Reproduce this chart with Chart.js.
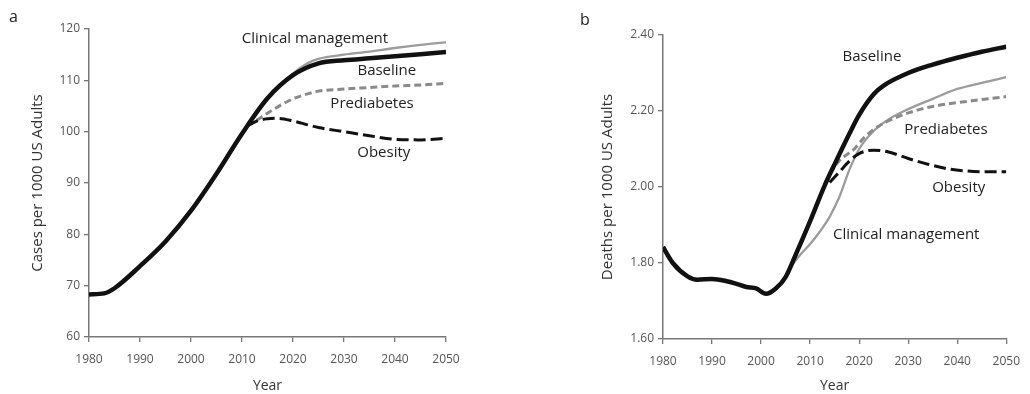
<!DOCTYPE html>
<html>
<head>
<meta charset="utf-8">
<script src="https://cdn.jsdelivr.net/npm/chart.js@4/dist/chart.umd.min.js"></script>
<style>
  body { margin: 0; background: #fff; font-family: "Open Sans", sans-serif; }
  #wrap { position: relative; width: 1030px; height: 394px; overflow: hidden; }
  .panel { position: absolute; top: 0; width: 515px; height: 394px; }
  .letter { position: absolute; font-size: 16px; color: #222; }
</style>
</head>
<body>
<div id="wrap">
  <div class="panel" style="left:0"><canvas id="chartA"></canvas></div>
  <div class="panel" style="left:515px"><canvas id="chartB"></canvas></div>
  <div class="letter" style="left:9px;top:5px">a</div>
  <div class="letter" style="left:580px;top:8px">b</div>
</div>
<script>
// panel a: cases per 1000 adults
const yearsBaseA = [1980, 1983, 1985, 1990, 1995, 2000, 2005, 2010, 2015, 2020, 2025, 2030, 2035, 2040, 2045, 2050];
const baselineA = [68.3, 68.5, 69.5, 73.8, 78.6, 84.6, 91.8, 99.6, 106.5, 111.0, 113.3, 113.9, 114.3, 114.7, 115.1, 115.5];
const yearsClinA = [2015, 2020, 2023, 2025, 2030, 2035, 2040, 2045, 2050];
const clinicalA = [106.6, 111.3, 113.4, 114.2, 115.0, 115.6, 116.3, 116.9, 117.4];
const yearsPreA = [2011, 2013, 2015, 2018, 2020, 2023, 2025, 2030, 2035, 2040, 2045, 2050];
const prediabetesA = [101.1, 102.3, 103.6, 105.4, 106.4, 107.4, 107.9, 108.3, 108.6, 108.9, 109.1, 109.4];
const yearsObeA = [2011, 2013, 2015, 2017, 2020, 2023, 2025, 2030, 2035, 2040, 2045, 2050];
const obesityA = [101.1, 102.1, 102.5, 102.6, 102.1, 101.3, 100.8, 100.0, 99.2, 98.5, 98.4, 98.7];

// panel b: deaths per 1000 adults
const yearsBaseB = [1980, 1982, 1985, 1987, 1990, 1993, 1995, 1997, 1999, 2001, 2003, 2005, 2007, 2010, 2013, 2015, 2018, 2020, 2023, 2025, 2030, 2035, 2040, 2045, 2050];
const baselineB = [1.842, 1.800, 1.765, 1.756, 1.758, 1.752, 1.745, 1.737, 1.733, 1.719, 1.733, 1.763, 1.820, 1.910, 2.005, 2.060, 2.140, 2.190, 2.245, 2.267, 2.300, 2.322, 2.340, 2.356, 2.369];
const yearsClinB = [2006, 2008, 2010, 2012, 2014, 2016, 2018, 2020, 2023, 2026, 2030, 2035, 2040, 2045, 2050];
const clinicalB = [1.790, 1.822, 1.850, 1.883, 1.922, 1.975, 2.045, 2.100, 2.148, 2.178, 2.205, 2.232, 2.258, 2.274, 2.289];
const yearsPreB = [2014, 2016, 2019, 2021, 2024, 2027, 2030, 2035, 2040, 2045, 2050];
const prediabetesB = [2.035, 2.070, 2.100, 2.130, 2.160, 2.180, 2.195, 2.212, 2.222, 2.230, 2.238];
const yearsObeB = [2014, 2016, 2018, 2020, 2023, 2026, 2030, 2034, 2038, 2042, 2046, 2050];
const obesityB = [2.012, 2.040, 2.068, 2.088, 2.097, 2.092, 2.075, 2.060, 2.048, 2.042, 2.040, 2.040];

const yearTicks = [1980, 1990, 2000, 2010, 2020, 2030, 2040, 2050];

function pairs(xs, ys) {
  return xs.map((x, i) => ({ x: x, y: ys[i] }));
}

// writes the curve names next to the lines
const curveLabels = {
  id: "curveLabels",
  afterDatasetsDraw(chart, args, opts) {
    const ctx = chart.ctx;
    const xs = chart.scales.x;
    const ys = chart.scales.y;
    ctx.save();
    ctx.font = "15px 'Open Sans'";
    ctx.fillStyle = "#222";
    ctx.textAlign = "center";
    ctx.textBaseline = "middle";
    opts.items.forEach((it) => {
      ctx.fillText(it.text, xs.getPixelForValue(it.x), ys.getPixelForValue(it.y));
    });
    ctx.restore();
  },
};

function lineSet(data, color, width, dash, order) {
  return {
    data: data,
    borderColor: color,
    borderWidth: width,
    borderDash: dash,
    pointRadius: 0,
    fill: false,
    cubicInterpolationMode: "monotone",
    order: order,
  };
}

function makeChart(id, cfg) {
  const axisColor = "#777";
  return new Chart(document.getElementById(id), {
    type: "line",
    data: {
      datasets: [
        lineSet(pairs(cfg.base[0], cfg.base[1]), "#111", 4.5, [], 0),
        lineSet(pairs(cfg.obe[0], cfg.obe[1]), "#111", 3, [12, 5], 1),
        lineSet(pairs(cfg.pre[0], cfg.pre[1]), "#8a8a8a", 3, [7, 4], 2),
        lineSet(pairs(cfg.clin[0], cfg.clin[1]), "#9c9c9c", 2.3, [], 3),
      ],
    },
    options: {
      responsive: true,
      maintainAspectRatio: false,
      animation: false,
      layout: { padding: cfg.padding },
      plugins: {
        legend: { display: false },
        tooltip: { enabled: false },
        curveLabels: { items: cfg.labels },
      },
      scales: {
        x: {
          type: "linear",
          min: 1980,
          max: 2050,
          afterBuildTicks: (scale) => {
            scale.ticks = yearTicks.map((v) => ({ value: v }));
          },
          afterFit: (scale) => {
            scale.height = cfg.xHeight;
          },
          ticks: {
            padding: 10,
            color: "#555",
            font: { family: "Open Sans", size: 12 },
            maxRotation: 0,
            callback: (v) => String(v),
          },
          grid: { drawOnChartArea: false, tickLength: 5, color: axisColor, lineWidth: 1.3 },
          border: { color: axisColor, width: 1.5 },
          title: {
            display: true,
            text: "Year",
            color: "#333",
            font: { family: "Open Sans", size: 14 },
            padding: { top: 0, bottom: 0 },
          },
        },
        y: {
          min: cfg.yMin,
          max: cfg.yMax,
          afterBuildTicks: (scale) => {
            scale.ticks = cfg.yTicks.map((v) => ({ value: v }));
          },
          afterFit: (scale) => {
            scale.width = cfg.yWidth;
          },
          ticks: {
            padding: 4,
            color: "#555",
            font: { family: "Open Sans", size: 12 },
            callback: cfg.yFormat,
          },
          grid: { drawOnChartArea: false, tickLength: 5, color: axisColor, lineWidth: 1.3 },
          border: { color: axisColor, width: 1.5 },
          title: {
            display: true,
            text: cfg.yTitle,
            color: "#333",
            font: { family: "Open Sans", size: 15 },
            padding: { top: cfg.yTitlePad, bottom: 0 },
          },
        },
      },
    },
    plugins: [curveLabels],
  });
}

const ticksA = [60, 70, 80, 90, 100, 110, 120];
const ticksB = [1.6, 1.8, 2.0, 2.2, 2.4];

makeChart("chartA", {
  base: [yearsBaseA, baselineA],
  clin: [yearsClinA, clinicalA],
  pre: [yearsPreA, prediabetesA],
  obe: [yearsObeA, obesityA],
  yMin: 60,
  yMax: 120,
  yTicks: ticksA,
  yFormat: (v) => String(v),
  yTitle: "Cases per 1000 US Adults",
  yTitlePad: 29,
  yWidth: 89,
  xHeight: 57,
  padding: { top: 29, right: 69, bottom: 0, left: 0 },
  labels: [
    { text: "Clinical management", x: 2024.3, y: 118.1 },
    { text: "Baseline", x: 2038.4, y: 111.8 },
    { text: "Prediabetes", x: 2035.5, y: 105.4 },
    { text: "Obesity", x: 2037.8, y: 95.8 },
  ],
});

makeChart("chartB", {
  base: [yearsBaseB, baselineB],
  clin: [yearsClinB, clinicalB],
  pre: [yearsPreB, prediabetesB],
  obe: [yearsObeB, obesityB],
  yMin: 1.6,
  yMax: 2.4,
  yTicks: ticksB,
  yFormat: (v) => v.toFixed(2),
  yTitle: "Deaths per 1000 US Adults",
  yTitlePad: 84,
  yWidth: 148,
  xHeight: 55,
  padding: { top: 35, right: 14, bottom: 0, left: 0 },
  labels: [
    { text: "Baseline", x: 2022.6, y: 2.342 },
    { text: "Prediabetes", x: 2037.7, y: 2.15 },
    { text: "Obesity", x: 2040.3, y: 1.997 },
    { text: "Clinical management", x: 2029.6, y: 1.874 },
  ],
});
</script>
</body>
</html>
